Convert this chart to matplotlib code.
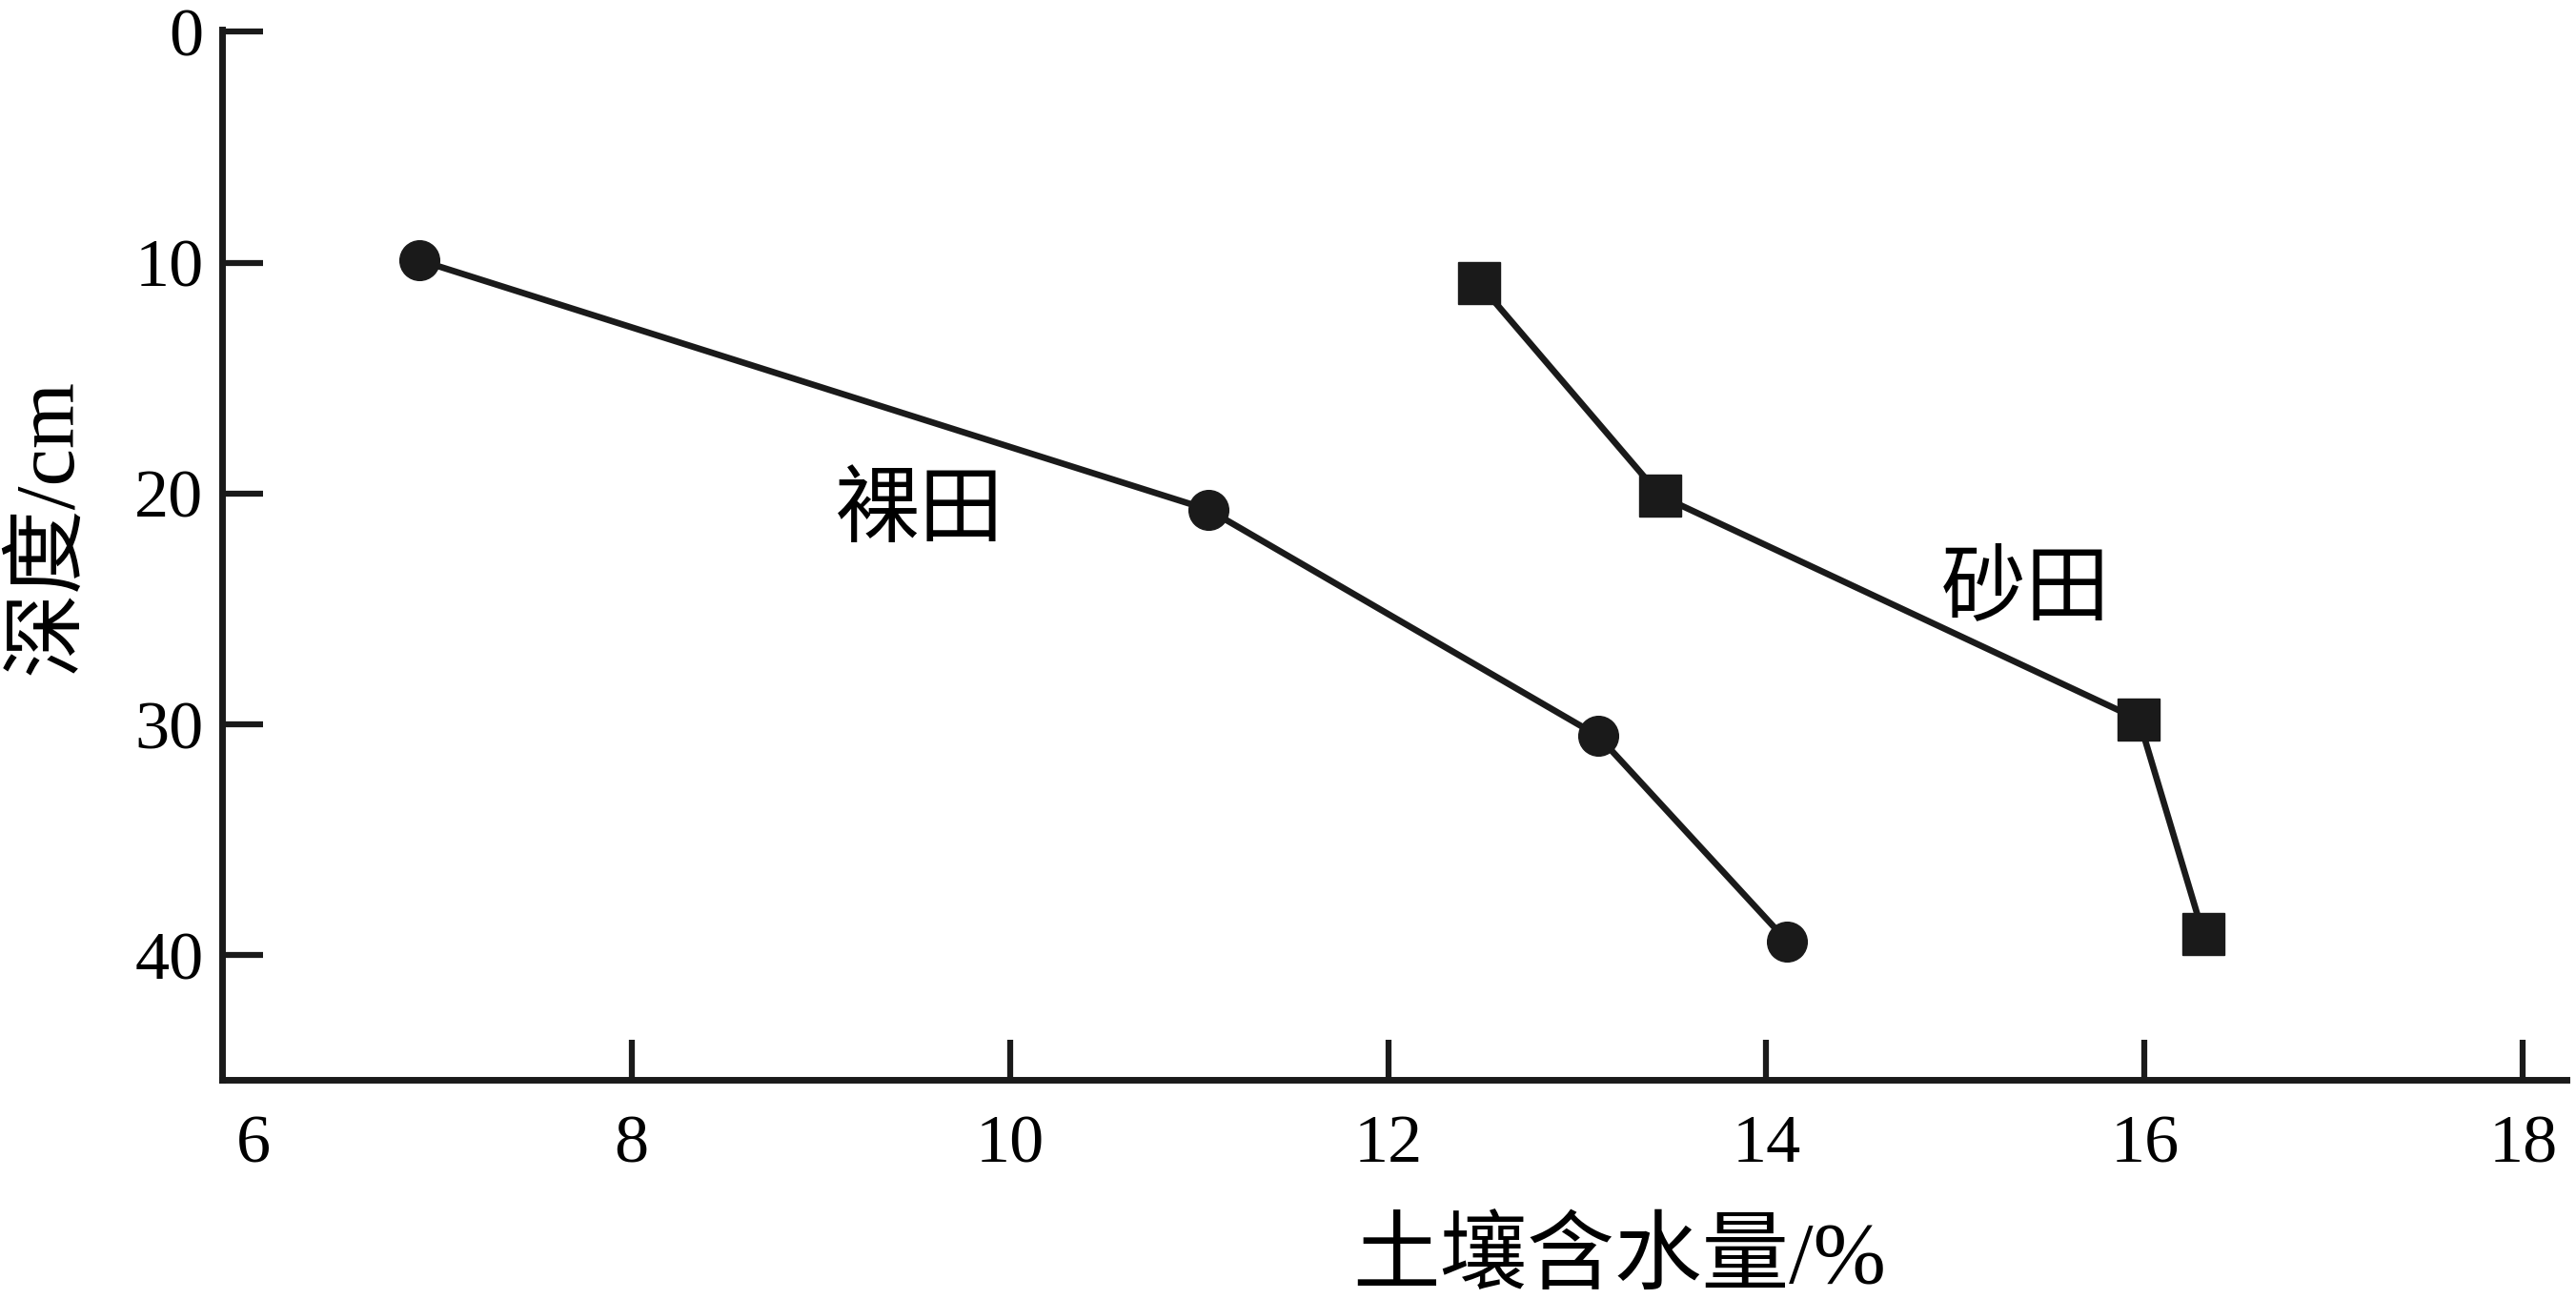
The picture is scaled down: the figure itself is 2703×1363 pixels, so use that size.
import matplotlib
matplotlib.use("Agg")
import matplotlib.pyplot as plt

# soil moisture (%) vs depth (cm)
bare_x = [6.88, 11.05, 13.11, 14.11]
bare_depth = [9.9, 20.7, 30.5, 39.4]
sand_x = [12.48, 13.44, 15.97, 16.31]
sand_depth = [10.9, 20.1, 29.8, 39.1]

x_ticks = [6, 8, 10, 12, 14, 16, 18]
y_ticks = [0, 10, 20, 30, 40]

ink = "#1a1a1a"
fonts = ["Liberation Serif", "Noto Sans CJK SC"]
plt.rcParams['font.family'] = fonts

fig = plt.figure(figsize=(27.03, 13.63), dpi=100)
ax = fig.add_axes([0.0862, 0.1687, 0.9101, 0.8086])

ax.plot(bare_x, bare_depth, color=ink, lw=4.8, marker='o', markersize=30,
        markerfacecolor=ink, markeredgecolor=ink)
ax.plot(sand_x, sand_depth, color=ink, lw=4.8, marker='s', markersize=31,
        markerfacecolor=ink, markeredgecolor=ink)

ax.text(9.52, 20.9, "裸田", fontsize=64, ha='center', va='center', color='black')
ax.text(15.37, 24.3, "砂田", fontsize=64, ha='center', va='center', color='black')

ax.set_xlim(5.835, 18.23)
ax.set_ylim(45.4, -0.1)
ax.set_xticks(x_ticks)
ax.set_yticks(y_ticks)
ax.xaxis.get_major_ticks()[0].tick1line.set_visible(False)

for side in ['top', 'right']:
    ax.spines[side].set_visible(False)
for side in ['left', 'bottom']:
    ax.spines[side].set_linewidth(5)
    ax.spines[side].set_color(ink)

ax.tick_params(axis='x', direction='in', length=30, width=4.5, color=ink,
               labelsize=52, pad=26)
ax.tick_params(axis='y', direction='in', length=31, width=4.5, color=ink,
               labelsize=52, pad=14)

ax.set_xlabel("土壤含水量/%", fontsize=66, va='center')
ax.xaxis.set_label_coords(0.596, -0.173)
ax.set_ylabel("深度/cm", fontsize=64, va='center')
ax.yaxis.set_label_coords(-0.0736, 0.527)

fig.savefig("out.png", dpi=100)
